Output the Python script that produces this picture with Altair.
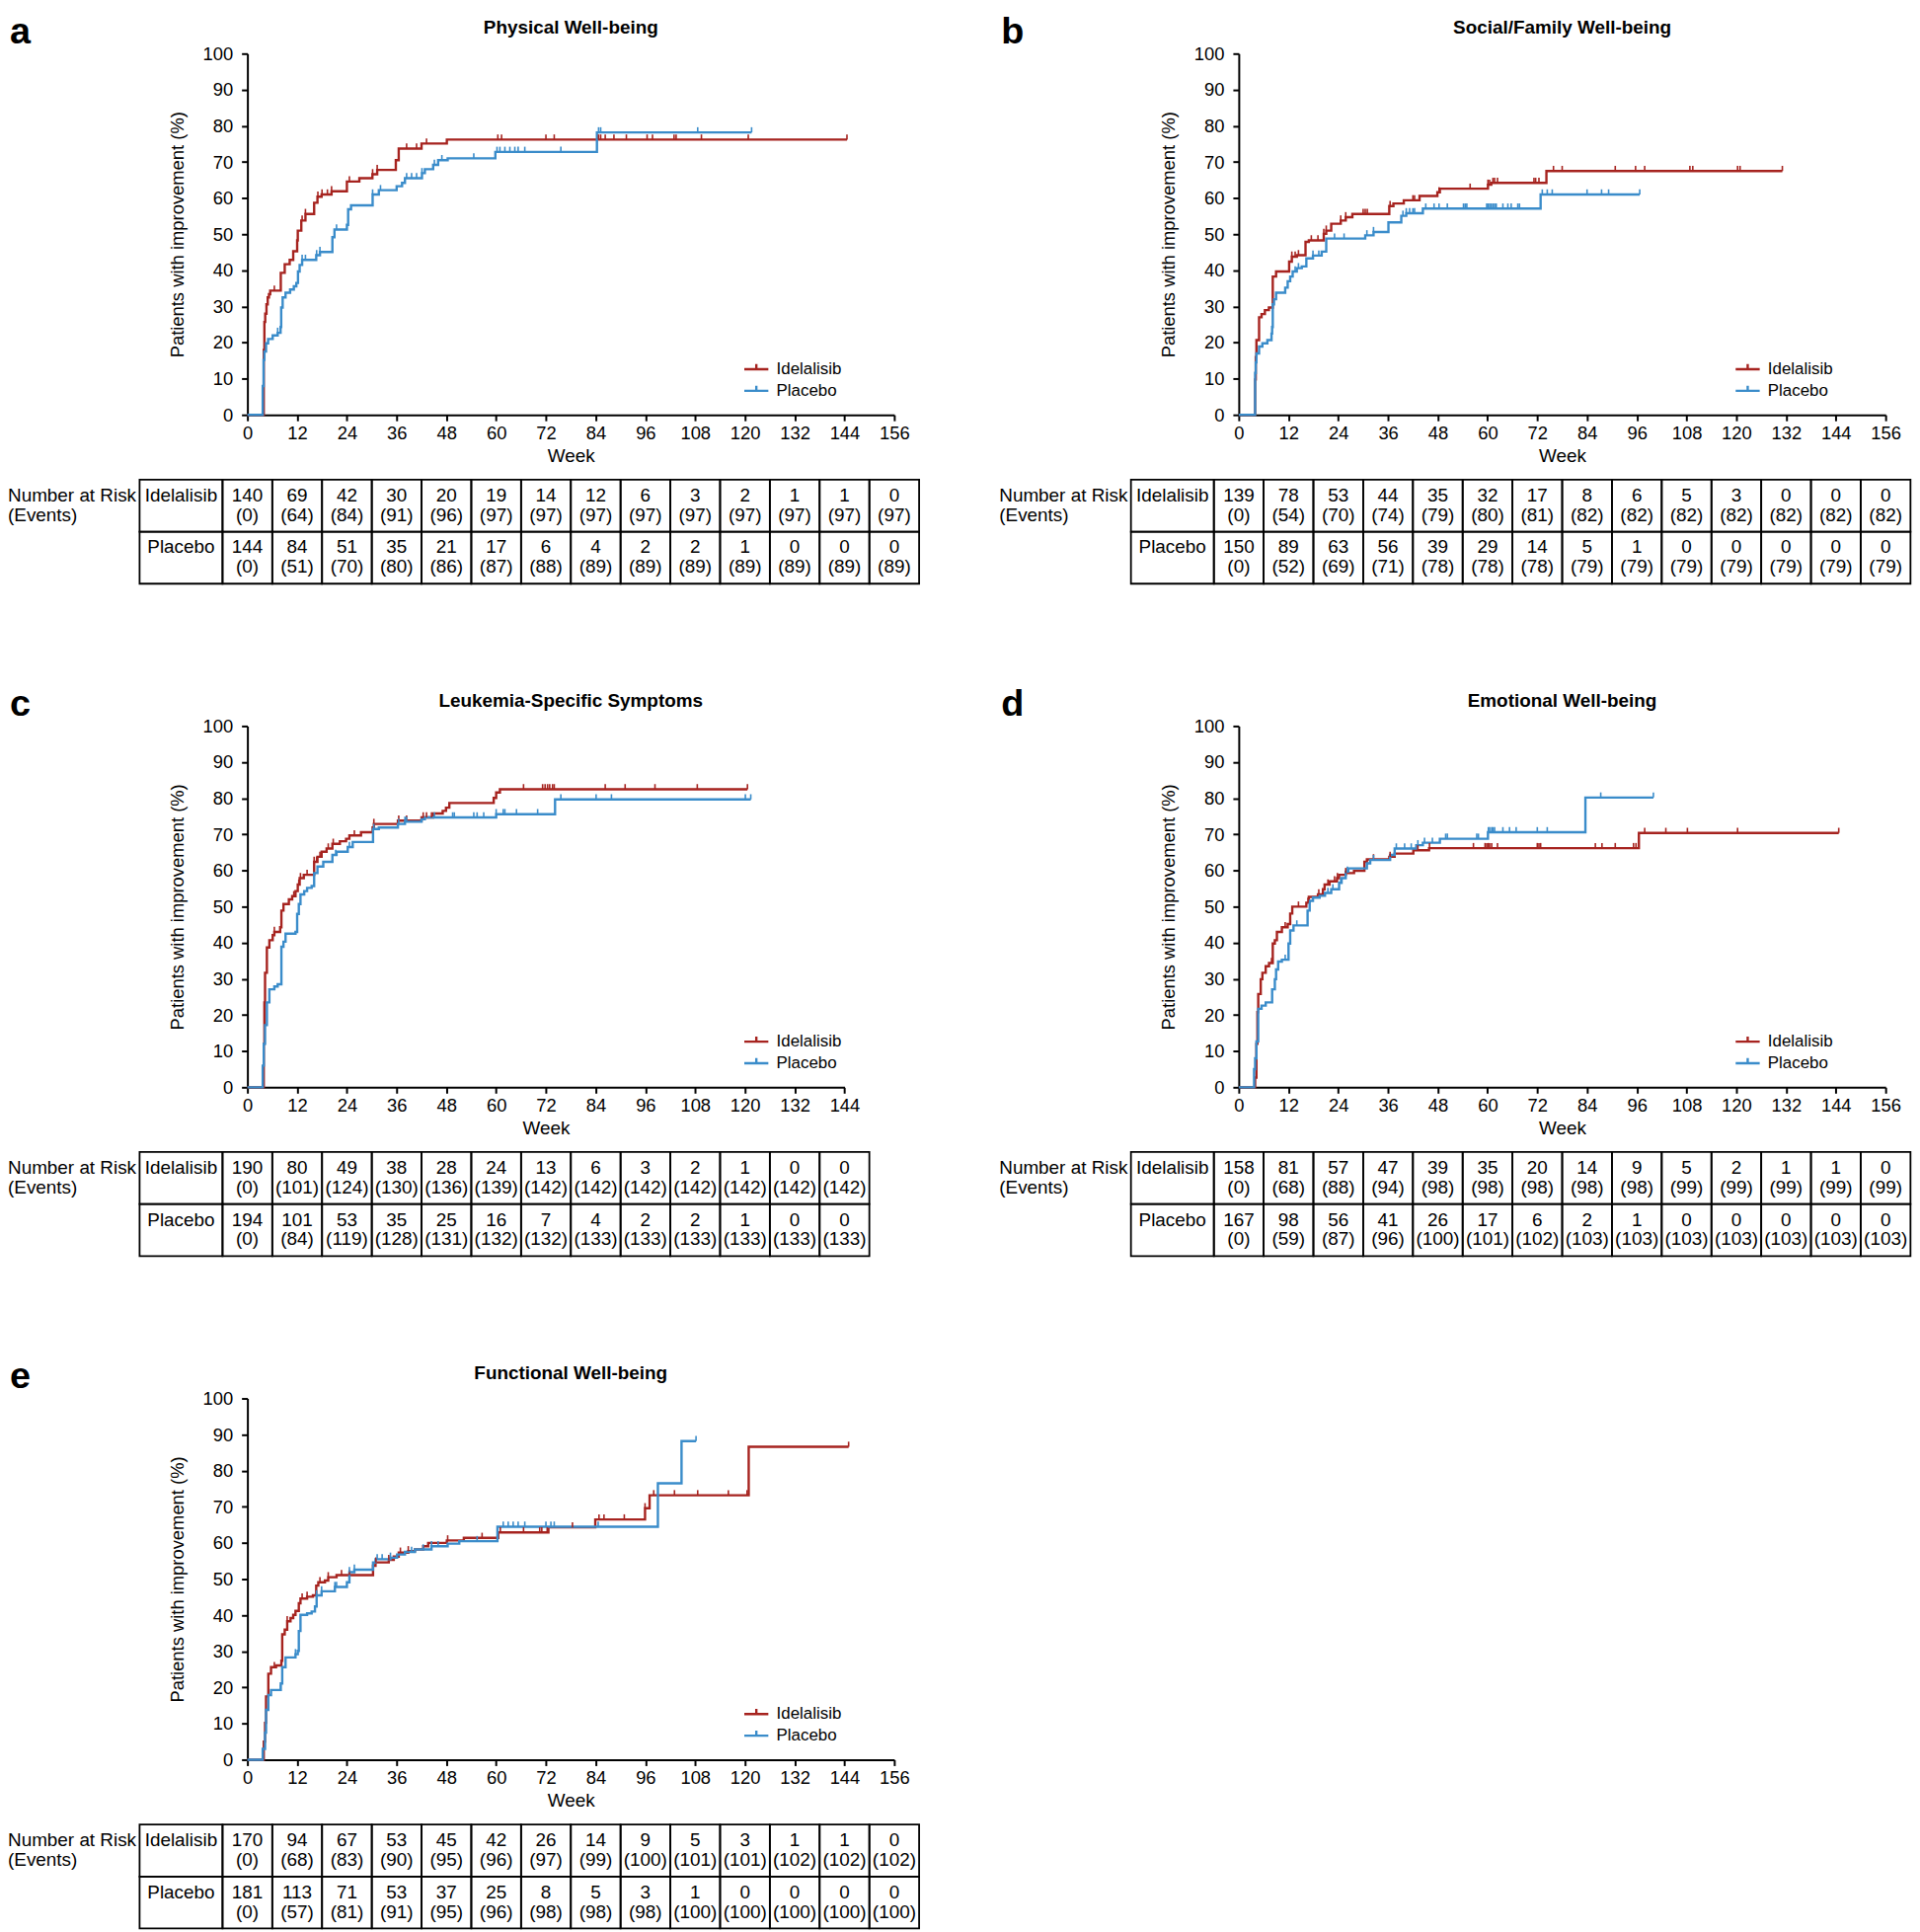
import altair as alt
import pandas as pd
from bisect import bisect_right

ARMS = ["Idelalisib", "Placebo"]
RED = "#A6231F"
BLUE = "#3A8CCA"
FONT = "Liberation Sans"

# ---------------- Panel a: Physical Well-being ----------------
A_IDE_T = [0, 3.95, 4.1, 4.3, 4.6, 4.9, 5.2, 5.5, 8.05, 9.0, 10.2, 11.05, 12.0, 12.15, 13.0, 14.0,
           16.1, 16.9, 17.9, 20.3, 24.0, 27.0, 30.15, 31.3, 35.8, 36.5, 42.0, 48.1]
A_IDE_V = [0, 18.0, 25.7, 28.0, 30.6, 32.5, 33.4, 34.4, 39.3, 41.7, 42.9, 45.3, 48.3, 51.0, 53.8, 55.6,
           58.7, 60.4, 61.0, 61.9, 64.6, 65.5, 66.6, 67.8, 70.5, 73.7, 75.1, 76.2]
A_IDE_END = 144.6
A_IDE_CENS = [6.5, 13.2, 14.0, 17.0, 18.0, 19.3, 20.3, 24.6, 30.2, 31.3, 38.4, 40.8, 43.2, 60.4, 61.3,
              72.0, 74.0, 84.7, 85.2, 86.3, 88.4, 91.4, 96.4, 97.7, 102.9, 103.4, 109.5, 120.8, 144.6]
A_PLA_T = [0, 3.7, 3.9, 4.1, 4.5, 5.0, 6.1, 7.3, 8.0, 8.15, 8.5, 9.2, 10.3, 11.2, 11.8, 12.2,
           12.6, 13.2, 16.6, 17.5, 20.5, 21.0, 24.0, 24.3, 25.0, 30.2, 31.7, 36.0, 37.3, 38.0, 42.1, 42.8,
           44.8, 46.0, 48.3, 59.8, 84.3]
A_PLA_V = [0, 8.0, 15.2, 17.5, 19.8, 21.0, 22.0, 22.7, 24.3, 29.7, 32.5, 33.8, 34.7, 35.6, 36.5, 39.7,
           41.5, 42.9, 44.2, 45.1, 49.2, 51.3, 52.6, 56.9, 58.0, 61.0, 62.2, 63.3, 64.2, 65.5, 66.9, 68.0,
           69.2, 70.5, 71.0, 72.8, 78.2]
A_PLA_END = 121.6
A_PLA_CENS = [7.3, 13.2, 14.0, 16.7, 17.5, 21.5, 30.2, 32.1, 38.4, 39.6, 40.8, 42.1, 45.1, 46.9, 54.6,
              60.2, 60.9, 62.1, 63.3, 64.5, 65.3, 66.9, 75.6, 84.7, 85.2, 108.6, 121.6]
A_IDE_N = [140, 69, 42, 30, 20, 19, 14, 12, 6, 3, 2, 1, 1, 0]
A_IDE_EV = [0, 64, 84, 91, 96, 97, 97, 97, 97, 97, 97, 97, 97, 97]
A_PLA_N = [144, 84, 51, 35, 21, 17, 6, 4, 2, 2, 1, 0, 0, 0]
A_PLA_EV = [0, 51, 70, 80, 86, 87, 88, 89, 89, 89, 89, 89, 89, 89]

# ---------------- Panel b: Social/Family Well-being ----------------
B_IDE_T = [0, 3.95, 4.1, 4.26, 4.9, 5.5, 6.3, 7.26, 8.2, 9.0, 12.15, 12.8, 14.0, 16.1, 16.9, 20.5,
           21.1, 22.3, 24.6, 25.8, 27.4, 36.3, 37.3, 39.8, 43.6, 47.9, 48.5, 60.1, 60.9, 74.2]
B_IDE_V = [0, 9.8, 16.0, 20.7, 27.0, 27.9, 29.0, 29.7, 38.3, 39.7, 42.4, 43.8, 44.2, 47.9, 48.3, 50.1,
           51.0, 52.9, 53.8, 54.7, 55.6, 57.8, 58.5, 59.4, 60.6, 61.6, 62.6, 63.7, 64.2, 67.5]
B_IDE_END = 131.1
B_IDE_CENS = [12.8, 13.6, 14.4, 17.5, 19.1, 20.5, 21.1, 24.6, 25.8, 30.0, 30.5, 31.0, 36.5, 42.0, 42.4,
              48.3, 55.8, 60.1, 60.5, 61.3, 61.7, 62.4, 71.2, 71.6, 72.4, 75.9, 78.0, 90.8, 95.7, 97.9,
              108.8, 109.5, 120.3, 120.9, 131.1]
B_PLA_T = [0, 3.95, 4.1, 4.26, 4.9, 5.7, 6.9, 7.9, 8.05, 8.2, 8.5, 9.0, 11.2, 11.8, 12.4, 13.0,
           14.0, 15.2, 16.3, 17.9, 20.0, 21.1, 30.5, 32.5, 36.1, 39.2, 40.4, 44.4, 72.8]
B_PLA_V = [0, 11.6, 14.5, 17.0, 18.9, 19.8, 20.7, 22.5, 24.3, 30.6, 32.0, 33.8, 35.2, 37.0, 38.3, 39.7,
           40.6, 41.1, 43.3, 44.1, 45.2, 48.8, 49.7, 50.6, 53.3, 55.1, 55.8, 57.1, 61.0]
B_PLA_END = 96.7
B_PLA_CENS = [13.6, 14.4, 17.9, 19.3, 23.1, 25.4, 30.9, 32.5, 39.6, 40.4, 41.2, 42.0, 42.4, 45.1, 47.1,
              48.3, 50.3, 54.2, 54.6, 55.0, 59.8, 60.1, 60.5, 60.9, 61.3, 61.7, 62.1, 63.7, 64.9, 65.7,
              67.3, 67.7, 73.2, 74.4, 75.6, 84.0, 87.5, 89.2, 96.7]
B_IDE_N = [139, 78, 53, 44, 35, 32, 17, 8, 6, 5, 3, 0, 0, 0]
B_IDE_EV = [0, 54, 70, 74, 79, 80, 81, 82, 82, 82, 82, 82, 82, 82]
B_PLA_N = [150, 89, 63, 56, 39, 29, 14, 5, 1, 0, 0, 0, 0, 0]
B_PLA_EV = [0, 52, 69, 71, 78, 78, 78, 79, 79, 79, 79, 79, 79, 79]

# ---------------- Panel c: Leukemia-Specific Symptoms ----------------
C_IDE_T = [0, 3.95, 4.1, 4.26, 4.7, 5.3, 6.1, 6.5, 7.9, 8.2, 8.7, 10.0, 10.8, 11.6, 12.15, 12.6,
           13.6, 16.1, 16.9, 17.9, 19.1, 20.5, 22.3, 23.8, 24.6, 27.4, 30.2, 30.5, 36.3, 42.0, 44.8, 47.1,
           47.9, 48.7, 59.4, 60.0, 60.9]
C_IDE_V = [0, 12.0, 23.5, 31.7, 38.7, 40.7, 42.1, 43.0, 44.3, 48.9, 50.7, 52.0, 52.9, 54.3, 56.1, 57.9,
           58.8, 62.4, 63.8, 65.2, 66.1, 67.4, 68.1, 68.8, 69.7, 70.6, 71.9, 72.9, 73.8, 74.7, 75.8, 76.5,
           77.4, 78.7, 80.1, 81.6, 82.5]
C_IDE_END = 120.6
C_IDE_CENS = [6.5, 11.2, 12.4, 12.8, 14.4, 16.1, 16.7, 17.5, 19.5, 20.7, 25.8, 30.5, 36.5, 38.4, 42.4,
              43.2, 44.4, 66.6, 71.2, 71.8, 72.4, 72.9, 73.6, 74.0, 86.3, 91.1, 98.3, 108.5, 120.6]
C_PLA_T = [0, 3.7, 3.95, 4.26, 4.7, 5.3, 6.5, 7.3, 8.2, 8.7, 9.2, 11.6, 12.0, 12.4, 12.8, 13.7,
           14.4, 15.5, 16.1, 16.9, 18.3, 20.5, 21.5, 24.2, 25.4, 30.3, 31.7, 36.3, 38.0, 42.0, 42.8, 60.0,
           74.2]
C_PLA_V = [0, 6.0, 12.0, 17.2, 23.5, 27.1, 27.9, 28.5, 38.9, 40.3, 42.5, 43.0, 48.0, 50.7, 53.4, 54.3,
           55.2, 55.7, 59.3, 61.1, 62.4, 64.3, 65.2, 66.5, 67.9, 71.5, 71.9, 72.9, 73.5, 74.2, 74.7, 75.6,
           79.7]
C_PLA_END = 121.4
C_PLA_CENS = [21.3, 24.6, 30.5, 36.5, 38.0, 38.4, 45.1, 49.5, 49.9, 54.6, 55.4, 57.0, 60.0, 61.7, 62.1,
              64.9, 70.0, 75.6, 84.1, 87.8, 120.1, 121.4]
C_IDE_N = [190, 80, 49, 38, 28, 24, 13, 6, 3, 2, 1, 0, 0]
C_IDE_EV = [0, 101, 124, 130, 136, 139, 142, 142, 142, 142, 142, 142, 142]
C_PLA_N = [194, 101, 53, 35, 25, 16, 7, 4, 2, 2, 1, 0, 0]
C_PLA_EV = [0, 84, 119, 128, 131, 132, 132, 133, 133, 133, 133, 133, 133]

# ---------------- Panel d: Emotional Well-being ----------------
D_IDE_T = [0, 3.95, 4.26, 4.5, 4.7, 5.3, 5.7, 6.5, 7.3, 8.2, 8.7, 9.2, 10.4, 11.8, 12.4, 12.9,
           16.3, 16.9, 19.1, 20.3, 20.7, 21.9, 23.7, 24.2, 25.8, 27.8, 30.3, 30.9, 36.3, 37.6, 42.1, 45.9,
           96.5]
D_IDE_V = [0, 2.7, 12.0, 20.8, 25.8, 29.9, 31.7, 33.5, 34.4, 39.8, 40.7, 43.0, 44.3, 45.2, 48.1, 50.0,
           51.1, 52.7, 53.4, 54.8, 56.1, 57.0, 57.9, 58.8, 59.3, 59.9, 62.4, 63.1, 63.8, 64.7, 65.6, 66.2,
           70.4]
D_IDE_END = 144.7
D_IDE_CENS = [7.9, 11.2, 14.4, 16.7, 19.3, 21.5, 23.1, 23.8, 25.8, 32.5, 36.5, 43.2, 46.0, 56.6, 59.4,
              59.8, 60.2, 60.5, 61.0, 62.4, 72.0, 72.4, 72.8, 86.0, 87.6, 90.8, 95.2, 95.8, 97.9, 103.0,
              108.2, 120.3, 144.7]
D_PLA_T = [0, 3.7, 3.95, 4.26, 4.7, 5.5, 6.5, 8.05, 8.7, 9.0, 9.5, 10.4, 12.0, 12.4, 13.2, 16.6,
           17.1, 17.9, 19.5, 20.8, 22.3, 24.2, 24.8, 25.8, 26.4, 30.9, 31.7, 36.5, 37.6, 42.8, 44.4, 48.5,
           60.1, 83.6]
D_PLA_V = [0, 5.0, 8.0, 12.7, 21.7, 22.6, 23.5, 27.1, 29.9, 32.6, 34.8, 35.3, 39.8, 43.4, 44.8, 48.9,
           51.6, 52.5, 53.0, 53.8, 54.8, 56.6, 57.9, 59.7, 60.6, 62.0, 62.9, 64.3, 66.1, 67.0, 67.7, 68.8,
           70.6, 80.2]
D_PLA_END = 100.0
D_PLA_CENS = [11.2, 14.0, 21.5, 22.7, 24.6, 26.2, 32.5, 38.0, 40.0, 41.6, 43.2, 44.8, 46.7, 49.9, 50.3,
              57.4, 57.8, 60.2, 60.5, 61.0, 61.3, 61.7, 63.7, 65.3, 66.9, 72.0, 74.4, 87.3, 100.0]
D_IDE_N = [158, 81, 57, 47, 39, 35, 20, 14, 9, 5, 2, 1, 1, 0]
D_IDE_EV = [0, 68, 88, 94, 98, 98, 98, 98, 98, 99, 99, 99, 99, 99]
D_PLA_N = [167, 98, 56, 41, 26, 17, 6, 2, 1, 0, 0, 0, 0, 0]
D_PLA_EV = [0, 59, 87, 96, 100, 101, 102, 103, 103, 103, 103, 103, 103, 103]

# ---------------- Panel e: Functional Well-being ----------------
E_IDE_T = [0, 3.95, 4.26, 4.5, 5.05, 5.7, 6.9, 8.2, 8.4, 9.0, 9.6, 10.4, 11.05, 11.6, 12.4, 12.8,
           14.4, 15.8, 16.6, 17.1, 18.7, 19.5, 21.5, 30.3, 30.9, 34.1, 35.3, 36.5, 38.8, 40.4, 42.4, 43.6,
           48.1, 52.2, 60.5, 72.6, 83.9, 95.9, 97.0, 120.9]
E_IDE_V = [0, 5.0, 10.2, 17.5, 23.8, 25.6, 26.1, 27.4, 34.7, 36.0, 38.3, 39.2, 40.1, 41.2, 43.3, 44.6,
           45.1, 45.5, 48.2, 49.1, 49.6, 50.5, 51.1, 53.7, 54.6, 55.3, 56.2, 57.3, 57.7, 58.2, 59.1, 60.0,
           60.7, 61.4, 62.9, 64.3, 66.5, 69.6, 73.2, 86.6]
E_IDE_END = 145.0
E_IDE_CENS = [6.5, 9.6, 13.2, 14.4, 17.5, 19.5, 22.7, 24.6, 31.0, 34.1, 36.9, 38.8, 48.3, 56.6, 61.0,
              66.6, 70.5, 71.0, 72.3, 78.4, 84.8, 86.0, 90.9, 95.9, 98.0, 103.0, 108.6, 116.0, 120.5, 145.0]
E_PLA_T = [0, 3.7, 4.26, 4.5, 5.05, 5.7, 8.05, 8.4, 9.2, 11.6, 12.15, 12.4, 12.8, 14.4, 15.5, 16.3,
           16.7, 17.9, 21.1, 24.0, 24.6, 25.8, 30.3, 30.9, 34.5, 36.1, 38.0, 40.4, 44.4, 48.3, 51.1, 60.3,
           99.0, 104.7]
E_PLA_V = [0, 3.0, 7.5, 13.8, 17.9, 19.3, 21.1, 25.6, 28.3, 29.2, 30.1, 35.6, 40.1, 40.5, 41.0, 42.4,
           45.5, 46.6, 47.8, 49.1, 51.9, 52.6, 54.6, 55.5, 55.9, 56.8, 57.5, 58.2, 59.1, 59.8, 60.5, 64.5,
           76.5, 88.2]
E_PLA_END = 108.2
E_PLA_CENS = [8.0, 11.6, 16.7, 17.9, 21.1, 21.5, 24.6, 25.8, 31.3, 32.5, 34.5, 39.6, 42.4, 44.4, 46.0,
              55.4, 61.7, 62.9, 64.1, 65.3, 66.9, 72.0, 73.2, 74.0, 84.6, 108.2]
E_IDE_N = [170, 94, 67, 53, 45, 42, 26, 14, 9, 5, 3, 1, 1, 0]
E_IDE_EV = [0, 68, 83, 90, 95, 96, 97, 99, 100, 101, 101, 102, 102, 102]
E_PLA_N = [181, 113, 71, 53, 37, 25, 8, 5, 3, 1, 0, 0, 0, 0]
E_PLA_EV = [0, 57, 81, 91, 95, 96, 98, 98, 98, 100, 100, 100, 100, 100]

# ---------------- layout constants ----------------
PX_PER_WEEK = 659 / 156
PLOT_H = 368
TBL_TOP = 434
ROW_H = 53
HALF = 6            # half column width in weeks
LABEL_L = -26       # left edge of the arm-label column (weeks)
LEFT_TXT = -244     # x of "Number at Risk" relative to plot


def km_frames(series):
    rows, cens = [], []
    for arm, (t, v, end, cz) in series.items():
        for ti, vi in zip(t, v):
            rows.append({"arm": arm, "week": ti, "pct": vi})
        rows.append({"arm": arm, "week": end, "pct": v[-1]})
        for c in cz:
            k = bisect_right(t, c) - 1
            cens.append({"arm": arm, "week": c, "pct": v[k]})
    return pd.DataFrame(rows), pd.DataFrame(cens)


def table_frames(weeks, counts):
    cells, texts, labels = [], [], []
    for r, arm in enumerate(ARMS):
        ns, evs = counts[arm]
        cells.append({"x0": LABEL_L, "x1": -HALF, "r0": r, "r1": r + 1})
        labels.append({"xl": (LABEL_L - HALF) / 2, "row": r, "arm": arm})
        for w, n, e in zip(weeks, ns, evs):
            cells.append({"x0": w - HALF, "x1": w + HALF, "r0": r, "r1": r + 1})
            texts.append({"week": w, "row": r, "n": str(n), "ev": f"({e})"})
    return pd.DataFrame(cells), pd.DataFrame(texts), pd.DataFrame(labels)


def note(s, x, y, **kw):
    return alt.Chart(pd.DataFrame({"s": [s]})).mark_text(font=FONT, color="black", **kw).encode(
        text="s:N", x=alt.value(x), y=alt.value(y))


def panel(letter, title, series, counts, xmax):
    weeks = list(range(0, xmax + 1, 12))
    width = xmax * PX_PER_WEEK
    km_df, cens_df = km_frames(series)
    cells, texts, labels = table_frames(weeks, counts)

    xs = alt.Scale(domain=[0, xmax], nice=False, zero=False)
    ys = alt.Scale(domain=[0, 100], nice=False)
    cs = alt.Scale(domain=ARMS, range=[RED, BLUE])
    xaxis = alt.Axis(values=weeks, title="Week", labelFlush=False, labelOverlap=False,
                     labelFontSize=18.5, titleFontSize=19, labelPadding=3, titlePadding=5)
    yaxis = alt.Axis(values=list(range(0, 101, 10)), title="Patients with improvement (%)",
                     labelFlush=False, labelOverlap=False, labelFontSize=18.5, titleFontSize=18.5,
                     labelPadding=9, titlePadding=16)
    legend = alt.Legend(title=None, orient="none", legendX=505, legendY=308,
                        symbolType="M-1,0L1,0M0,0L0,-0.42", symbolSize=600, symbolStrokeWidth=2.4,
                        labelFontSize=17, labelFont=FONT, labelColor="black", labelOffset=7,
                        rowPadding=-7)
    x_enc = alt.X("week:Q", title="Week", scale=xs, axis=xaxis)
    y_enc = alt.Y("pct:Q", title="Patients with improvement (%)", scale=ys, axis=yaxis)
    c_enc = alt.Color("arm:N", scale=cs, legend=legend)

    line = alt.Chart(km_df).mark_line(interpolate="step-after", strokeWidth=2.4).encode(
        x=x_enc, y=y_enc, color=c_enc)
    ticks = alt.Chart(cens_df).mark_point(shape="M0,0L0,-1", size=110, filled=False,
                                          strokeWidth=1.6, opacity=1).encode(
        x=x_enc, y=y_enc, color=c_enc)
    km = alt.layer(line, ticks)

    ty = alt.Scale(domain=[0, 2], range=[TBL_TOP, TBL_TOP + 2 * ROW_H], nice=False, zero=False)
    rect = alt.Chart(cells).mark_rect(fill="transparent", stroke="black", strokeWidth=1.8).encode(
        x=alt.X("x0:Q", scale=xs, axis=None), x2="x1:Q",
        y=alt.Y("r0:Q", scale=ty, axis=None), y2="r1:Q")
    ntext = alt.Chart(texts).mark_text(font=FONT, fontSize=19, dy=16, baseline="middle",
                                       color="black").encode(
        x=alt.X("week:Q", scale=xs, axis=None), y=alt.Y("row:Q", scale=ty, axis=None), text="n:N")
    etext = alt.Chart(texts).mark_text(font=FONT, fontSize=19, dy=36, baseline="middle",
                                       color="black").encode(
        x=alt.X("week:Q", scale=xs, axis=None), y=alt.Y("row:Q", scale=ty, axis=None), text="ev:N")
    ltext = alt.Chart(labels).mark_text(font=FONT, fontSize=19, dy=16, baseline="middle",
                                        color="black").encode(
        x=alt.X("xl:Q", scale=xs, axis=None), y=alt.Y("row:Q", scale=ty, axis=None), text="arm:N")
    tbl = alt.layer(rect, ntext, etext, ltext)

    notes = [
        note(letter, LEFT_TXT + 2, -10.5, fontSize=38, fontWeight="bold", align="left",
             baseline="alphabetic"),
        note(title, 329.5, -26, fontSize=19, fontWeight="bold", align="center", baseline="middle"),
        note("Number at Risk", LEFT_TXT, TBL_TOP + 16, fontSize=19, align="left", baseline="middle"),
        note("(Events)", LEFT_TXT, TBL_TOP + 36, fontSize=19, align="left", baseline="middle"),
    ]
    return alt.layer(km, tbl, *notes).resolve_scale(y="independent").resolve_axis(
        x="independent").properties(width=width, height=PLOT_H)


def arms(it, iv, ie, ic, pt, pv, pe, pc):
    return {"Idelalisib": (it, iv, ie, ic), "Placebo": (pt, pv, pe, pc)}


pa = panel("a", "Physical Well-being",
           arms(A_IDE_T, A_IDE_V, A_IDE_END, A_IDE_CENS, A_PLA_T, A_PLA_V, A_PLA_END, A_PLA_CENS),
           {"Idelalisib": (A_IDE_N, A_IDE_EV), "Placebo": (A_PLA_N, A_PLA_EV)}, 156)
pb = panel("b", "Social/Family Well-being",
           arms(B_IDE_T, B_IDE_V, B_IDE_END, B_IDE_CENS, B_PLA_T, B_PLA_V, B_PLA_END, B_PLA_CENS),
           {"Idelalisib": (B_IDE_N, B_IDE_EV), "Placebo": (B_PLA_N, B_PLA_EV)}, 156)
pc = panel("c", "Leukemia-Specific Symptoms",
           arms(C_IDE_T, C_IDE_V, C_IDE_END, C_IDE_CENS, C_PLA_T, C_PLA_V, C_PLA_END, C_PLA_CENS),
           {"Idelalisib": (C_IDE_N, C_IDE_EV), "Placebo": (C_PLA_N, C_PLA_EV)}, 144)
pd_ = panel("d", "Emotional Well-being",
            arms(D_IDE_T, D_IDE_V, D_IDE_END, D_IDE_CENS, D_PLA_T, D_PLA_V, D_PLA_END, D_PLA_CENS),
            {"Idelalisib": (D_IDE_N, D_IDE_EV), "Placebo": (D_PLA_N, D_PLA_EV)}, 156)
pe = panel("e", "Functional Well-being",
           arms(E_IDE_T, E_IDE_V, E_IDE_END, E_IDE_CENS, E_PLA_T, E_PLA_V, E_PLA_END, E_PLA_CENS),
           {"Idelalisib": (E_IDE_N, E_IDE_EV), "Placebo": (E_PLA_N, E_PLA_EV)}, 156)

chart = alt.concat(pa, pb, pc, pd_, pe, columns=2, spacing={"row": 103, "column": 80}).resolve_scale(
    color="independent").resolve_legend(color="independent").properties(
    padding={"left": 0, "top": 0, "right": 0, "bottom": 0}
).configure(font=FONT).configure_view(stroke=None).configure_axis(
    domainColor="black", domainWidth=2, tickColor="black", tickWidth=2, tickSize=6,
    labelColor="black", titleColor="black", titleFontWeight="normal", grid=False,
    labelFont=FONT, titleFont=FONT)

chart.save("out.html", embed_options={"renderer": "svg", "actions": False})
